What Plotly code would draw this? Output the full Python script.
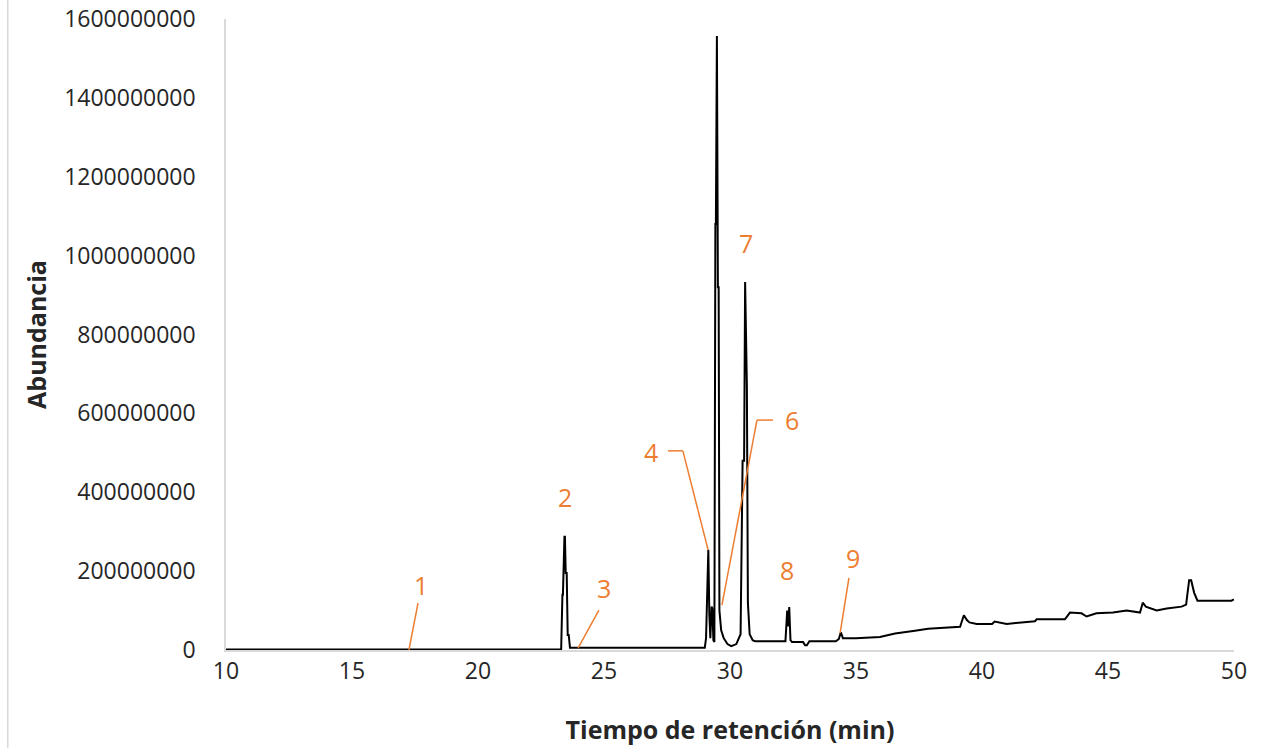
import plotly.graph_objects as go

# Chromatogram data: retention time (min) and abundance
tiempo = [10.0, 23.30, 23.35, 23.37, 23.43, 23.45, 23.48, 23.52, 23.56, 23.60, 23.65,
          29.00, 29.05, 29.10, 29.14, 29.18, 29.22, 29.27, 29.30, 29.34, 29.38,
          29.42, 29.44, 29.48, 29.52, 29.55, 29.58, 29.65, 29.75, 29.90, 30.05, 30.25,
          30.42, 30.50, 30.56, 30.60, 30.64, 30.67, 30.71, 30.78, 30.90, 31.00,
          32.20, 32.27, 32.31, 32.35, 32.40, 32.46, 32.60, 32.90, 32.98, 33.05, 33.15,
          34.20, 34.32, 34.40, 34.48, 34.60, 35.00, 35.95, 36.55, 37.34, 37.86, 39.13,
          39.28, 39.40, 39.50, 39.79, 40.40, 40.50, 40.98, 42.10, 42.17, 43.29, 43.49,
          43.95, 44.15, 44.54, 45.20, 45.74, 46.27, 46.38, 46.50, 46.93, 47.33, 47.92,
          48.10, 48.22, 48.30, 48.42, 48.55, 49.90, 50.00]
abundancia = [1e6, 1e6, 140e6, 140e6, 287e6, 287e6, 195e6, 195e6, 38e6, 38e6, 6e6,
              6e6, 30e6, 200e6, 254e6, 90e6, 30e6, 110e6, 105e6, 25e6, 20e6,
              1080e6, 1080e6, 1557e6, 920e6, 920e6, 100e6, 50e6, 30e6, 15e6, 10e6, 15e6,
              40e6, 480e6, 480e6, 933e6, 670e6, 670e6, 120e6, 40e6, 25e6, 22e6,
              22e6, 100e6, 60e6, 109e6, 25e6, 20e6, 20e6, 20e6, 12e6, 12e6, 22e6,
              22e6, 28e6, 45e6, 30e6, 30e6, 30e6, 33e6, 42e6, 49e6, 54e6, 59e6,
              88e6, 76e6, 70e6, 66e6, 66e6, 72e6, 66e6, 73e6, 78e6, 78e6, 95e6,
              93e6, 85e6, 93e6, 95e6, 100e6, 95e6, 120e6, 110e6, 100e6, 105e6, 110e6,
              115e6, 177e6, 177e6, 145e6, 125e6, 125e6, 128e6]

# Peak labels: (label, text position, connector polyline)
etiquetas = ["1", "2", "3", "4", "6", "7", "8", "9"]
pos_texto = [(17.74, 165e6), (23.45, 388e6), (25.0, 157e6), (26.87, 502e6),
             (32.46, 583e6), (30.63, 1032e6), (32.28, 203e6), (34.88, 233e6)]
conectores = [
    [(17.62, 119e6), (17.26, 0)],
    [],
    [(24.80, 101e6), (23.97, 5e6)],
    [(27.54, 505e6), (28.13, 505e6), (29.13, 254e6)],
    [(31.71, 583e6), (31.07, 583e6), (29.68, 114e6)],
    [],
    [],
    [(34.72, 183e6), (34.37, 43e6)],
]

naranja = "#ED7D31"
fuente = "Open Sans"

fig = go.Figure()
fig.add_trace(go.Scatter(x=tiempo, y=abundancia, mode="lines",
                         line=dict(color="black", width=2), showlegend=False))

shapes = []
for pts in conectores:
    for (x0, y0), (x1, y1) in zip(pts[:-1], pts[1:]):
        shapes.append(dict(type="line", xref="x", yref="y", x0=x0, y0=y0, x1=x1, y1=y1,
                           line=dict(color=naranja, width=1.5)))
# left chart frame line
shapes.append(dict(type="line", xref="paper", yref="paper", x0=-0.2165, x1=-0.2165,
                   y0=-0.2, y1=1.04, line=dict(color="#d9d9d9", width=1.5)))

annotations = [dict(x=x, y=y, text=t, showarrow=False, xref="x", yref="y",
                    font=dict(family=fuente, size=25, color=naranja))
               for t, (x, y) in zip(etiquetas, pos_texto)]

fig.update_layout(
    width=1262, height=748,
    margin=dict(l=226, r=28, t=19, b=98),
    paper_bgcolor="white", plot_bgcolor="white",
    font=dict(family=fuente, color="#262626"),
    shapes=shapes, annotations=annotations,
    xaxis=dict(range=[10, 50], tickvals=[10, 15, 20, 25, 30, 35, 40, 45, 50],
               automargin=False,
               showgrid=False, zeroline=False, showline=True, linecolor="#d9d9d9",
               linewidth=1.5, ticks="", tickfont=dict(size=23, color="#262626"),
               title=dict(text="<b>Tiempo de retención (min)</b>",
                          font=dict(size=25, color="#262626"), standoff=36)),
    yaxis=dict(range=[0, 1.6e9], tickvals=[i * 200e6 for i in range(9)],
               ticktext=[str(int(i * 200e6)) for i in range(9)],
               automargin=False,
               showgrid=False, zeroline=False, showline=True, linecolor="#d9d9d9",
               linewidth=1.5, ticks="", ticklabelstandoff=24,
               tickfont=dict(size=23, color="#262626"),
               title=dict(text="<b>Abundancia</b>",
                          font=dict(size=25, color="#262626"), standoff=10)),
)

fig.write_html("out.html", post_script="document.body.style.margin='0px';",
               config={"displayModeBar": False})
